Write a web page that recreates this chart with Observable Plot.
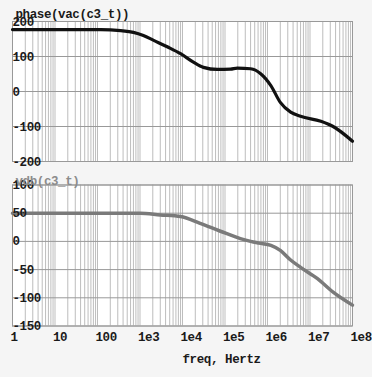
<!DOCTYPE html>
<html><head><meta charset="utf-8">
<script src="https://cdn.jsdelivr.net/npm/d3@7"></script>
<script src="https://cdn.jsdelivr.net/npm/@observablehq/plot@0.6"></script>
<style>
html,body{margin:0;padding:0;background:#f5f5f5;}
#wrap{position:relative;width:372px;height:377px;overflow:hidden;background:#f5f5f5;}
#wrap svg{position:absolute;left:0;overflow:visible;}
</style></head><body><div id="wrap"></div>
<script>
// ---- data ----
const phaseFreq = [1, 120, 350, 700, 1200, 2100, 4500, 9000, 18000, 31000, 66000, 135000, 195000, 400000, 690000, 1200000, 2000000, 3500000, 6000000, 18000000, 35000000, 100000000];
const phaseDeg  = [177, 177, 174, 169, 160, 146, 127, 108, 84, 69, 63, 64, 67, 65, 51, 17, -31, -59, -71, -85, -100, -142];
const gainFreq  = [1, 1000, 3000, 9000, 26000, 78000, 230000, 400000, 620000, 1200000, 2000000, 3500000, 6000000, 15000000, 35000000, 100000000];
const gainDb    = [50, 50, 47, 44, 32, 18, 5, 0, -3, -7, -16, -33, -46, -66, -90, -113];

const decades = [1, 10, 100, 1e3, 1e4, 1e5, 1e6, 1e7, 1e8];
const decadeLabels = ["1", "10", "100", "1e3", "1e4", "1e5", "1e6", "1e7", "1e8"];
const minorSteps = [1, 2, 3, 4, 5, 6, 7, 8, 9];
const phaseTicks = [200, 100, 0, -100, -200];
const gainTicks = [100, 50, 0, -50, -100, -150];
const phaseTitle = "phase(vac(c3_t))";
const gainTitle = "vdb(c3_t)";
const xTitle = "freq, Hertz";

// ---- build ----
const gridTicks = decades.slice(0, -1).flatMap(d => minorSteps.map(m => d * m)).concat([decades[decades.length - 1]]);
const phaseData = phaseFreq.map((f, i) => ({f, v: phaseDeg[i]}));
const gainData = gainFreq.map((f, i) => ({f, v: gainDb[i]}));

const common = {
  width: 372,
  marginLeft: 12,
  marginRight: 20,
  x: {type: "log", domain: [1, 1e8], axis: null},
  style: {background: "transparent", fontFamily: "'Liberation Mono', 'DejaVu Sans Mono', monospace", fontSize: "12.5px", fontWeight: "bold", letterSpacing: "-0.4px", overflow: "visible"}
};

const labelFill = "#1a1a1a";

const phasePlot = Plot.plot({
  ...common,
  height: 172,
  marginTop: 21,
  marginBottom: 11,
  y: {domain: [-200, 200], axis: null},
  marks: [
    Plot.frame({fill: "white", stroke: null}),
    Plot.gridX(gridTicks, {stroke: "#bdbdbd", strokeOpacity: 1}),
    Plot.gridY(phaseTicks, {stroke: "#999", strokeOpacity: 1}),
    Plot.frame({stroke: "#999"}),
    Plot.line(phaseData, {x: "f", y: "v", stroke: "#111", strokeWidth: 3.2, curve: "monotone-x"}),
    Plot.text(phaseTicks, {y: d => d, text: d => String(d), frameAnchor: "left", textAnchor: "start", dx: 0, fill: labelFill}),
    Plot.text([phaseTitle], {text: d => d, frameAnchor: "top-left", textAnchor: "start", dx: 3, dy: -12, fill: labelFill})
  ]
});
phasePlot.style.top = "0px";

const gainPlot = Plot.plot({
  ...common,
  height: 205,
  marginTop: 12.5,
  marginBottom: 51.5,
  y: {domain: [-150, 100], axis: null},
  marks: [
    Plot.frame({fill: "white", stroke: null}),
    Plot.gridX(gridTicks, {stroke: "#bdbdbd", strokeOpacity: 1}),
    Plot.gridY(gainTicks, {stroke: "#999", strokeOpacity: 1}),
    Plot.frame({stroke: "#999"}),
    Plot.line(gainData, {x: "f", y: "v", stroke: "#7a7a7a", strokeWidth: 3.5, curve: "monotone-x"}),
    Plot.text(gainTicks, {y: d => d, text: d => String(d), frameAnchor: "left", textAnchor: "start", dx: 0, fill: labelFill}),
    Plot.text([gainTitle], {text: d => d, frameAnchor: "top-left", textAnchor: "start", dx: 3, dy: -8.5, fill: "#8c8c8c"}),
    Plot.text(decades, {x: d => d, text: (d, i) => decadeLabels[i], frameAnchor: "bottom", textAnchor: "start", dx: -2, dy: 15, fill: labelFill}),
    Plot.text([xTitle], {text: d => d, frameAnchor: "bottom", textAnchor: "start", dx: 0, dy: 37, fill: labelFill})
  ]
});
gainPlot.style.top = "172px";

const wrap = document.getElementById("wrap");
wrap.appendChild(phasePlot);
wrap.appendChild(gainPlot);
</script>
</body></html>
